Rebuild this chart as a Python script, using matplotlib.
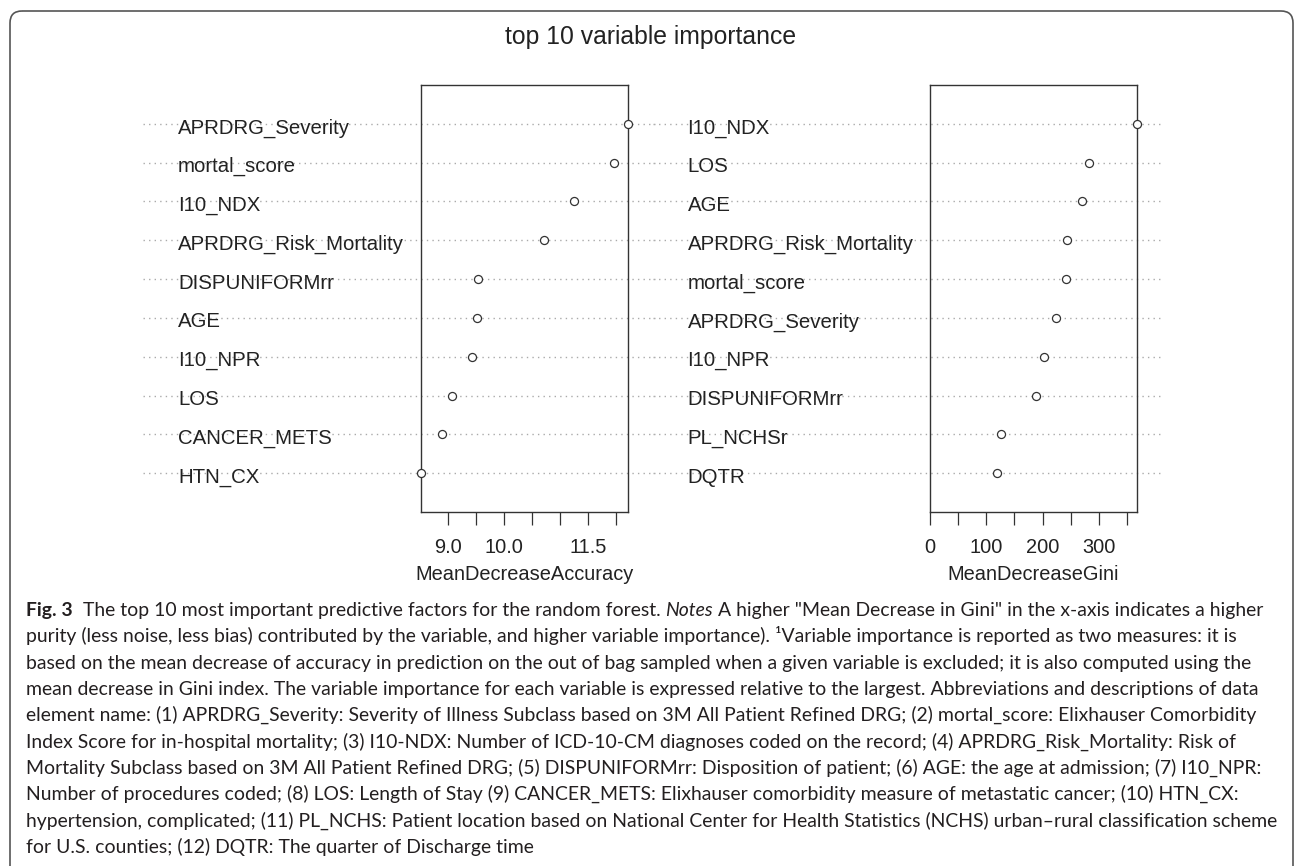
import numpy as np
import matplotlib.pyplot as plt
from matplotlib.patches import FancyBboxPatch

W, H = 1295, 866

acc_names = ['APRDRG_Severity', 'mortal_score', 'I10_NDX', 'APRDRG_Risk_Mortality',
             'DISPUNIFORMrr', 'AGE', 'I10_NPR', 'LOS', 'CANCER_METS', 'HTN_CX']
acc_vals = [12.22, 11.97, 11.26, 10.72, 9.54, 9.51, 9.42, 9.07, 8.90, 8.51]
acc_ticks = [9.0, 9.5, 10.0, 10.5, 11.0, 11.5, 12.0]
acc_ticklabels = ['9.0', '', '10.0', '', '', '11.5', '']

gini_names = ['I10_NDX', 'LOS', 'AGE', 'APRDRG_Risk_Mortality', 'mortal_score',
              'APRDRG_Severity', 'I10_NPR', 'DISPUNIFORMrr', 'PL_NCHSr', 'DQTR']
gini_vals = [367.5, 281.7, 269.0, 243.7, 241.4, 223.0, 202.0, 188.7, 126.0, 118.4]
gini_ticks = [0, 50, 100, 150, 200, 250, 300, 350]
gini_ticklabels = ['0', '', '100', '', '200', '', '300', '']

title = 'top 10 variable importance'

caption = [
    "purity (less noise, less bias) contributed by the variable, and higher variable importance). \u00b9Variable importance is reported as two measures: it is",
    "based on the mean decrease of accuracy in prediction on the out of bag sampled when a given variable is excluded; it is also computed using the",
    "mean decrease in Gini index. The variable importance for each variable is expressed relative to the largest. Abbreviations and descriptions of data",
    "element name: (1) APRDRG_Severity: Severity of Illness Subclass based on 3M All Patient Refined DRG; (2) mortal_score: Elixhauser Comorbidity",
    "Index Score for in-hospital mortality; (3) I10-NDX: Number of ICD-10-CM diagnoses coded on the record; (4) APRDRG_Risk_Mortality: Risk of",
    "Mortality Subclass based on 3M All Patient Refined DRG; (5) DISPUNIFORMrr: Disposition of patient; (6) AGE: the age at admission; (7) I10_NPR:",
    "Number of procedures coded; (8) LOS: Length of Stay (9) CANCER_METS: Elixhauser comorbidity measure of metastatic cancer; (10) HTN_CX:",
    "hypertension, complicated; (11) PL_NCHS: Patient location based on National Center for Health Statistics (NCHS) urban\u2013rural classification scheme",
    "for U.S. counties; (12) DQTR: The quarter of Discharge time",
]

plt.rcParams['font.family'] = ['Liberation Sans', 'DejaVu Sans']

fig = plt.figure(figsize=(W / 100, H / 100), dpi=100)
bg = fig.add_axes([0, 0, 1, 1])
bg.set_xlim(0, W)
bg.set_ylim(H, 0)
bg.axis('off')

bg.add_patch(FancyBboxPatch((10, 11), 1283, 870,
                            boxstyle='round,pad=0,rounding_size=12',
                            fc='none', ec='#555555', lw=1.2))

bg.text(650.5, 44, title, ha='center', va='baseline', fontsize=17.8, color='#222222')


def dotchart(ax, names, vals, ticks, ticklabels, xlim, xlabel):
    y = np.arange(len(names), 0, -1)
    tr = ax.get_yaxis_transform()
    for yi, name in zip(y, names):
        ax.plot([-1.34, 1.13], [yi, yi], transform=tr, color='#aaaaaa',
                ls=(0, (1, 3)), lw=1, clip_on=False, zorder=1)
        ax.annotate(name, xy=(-1.171, yi), xycoords=tr, xytext=(0, -6.8),
                    textcoords='offset points', ha='left', va='baseline',
                    fontsize=14.7, color='#222222', annotation_clip=False)
    ax.plot(vals, y, 'o', ms=5.8, mfc='white', mec='#333333', mew=0.9,
            clip_on=False, zorder=3)
    ax.set_xlim(xlim)
    ax.set_ylim(0, len(names) + 1)
    ax.set_yticks([])
    ax.set_xticks(ticks)
    ax.set_xticklabels(ticklabels)
    ax.tick_params(axis='x', length=9.4, width=0.9, pad=9, labelsize=14.4,
                   colors='#333333', labelcolor='#222222')
    for s in ax.spines.values():
        s.set_color('#333333')
        s.set_linewidth(1.0)
    ax.set_xlabel(xlabel, fontsize=14.4, color='#222222', labelpad=6)
    ax.patch.set_alpha(0)


axL = fig.add_axes([420.7 / W, (H - 512) / H, 207.3 / W, 427 / H])
dotchart(axL, acc_names, acc_vals, acc_ticks, acc_ticklabels,
         (min(acc_vals), max(acc_vals)), 'MeanDecreaseAccuracy')

axR = fig.add_axes([930 / W, (H - 512) / H, 207 / W, 427 / H])
dotchart(axR, gini_names, gini_vals, gini_ticks, gini_ticklabels,
         (0, max(gini_vals)), 'MeanDecreaseGini')

# --- caption
cfont = dict(family=['Lato', 'DejaVu Sans'], fontsize=13.95, color='#231f20')
x0, y0, dy = 26, 616, 26.3
t = bg.text(x0, y0, 'Fig. 3', fontweight='bold', va='baseline', **cfont)
t = bg.annotate('  The top 10 most important predictive factors for the random forest. ',
                xycoords=t, xy=(1, 0), va='bottom', **cfont)
t = bg.annotate('Notes', xycoords=t, xy=(1, 0), va='bottom', style='italic', **cfont)
bg.annotate(' A higher "Mean Decrease in Gini" in the x-axis indicates a higher',
            xycoords=t, xy=(1, 0), va='bottom', **cfont)
for i, line in enumerate(caption):
    bg.text(x0, y0 + (i + 1) * dy, line, va='baseline', **cfont)

fig.savefig('out.png', dpi=100)
